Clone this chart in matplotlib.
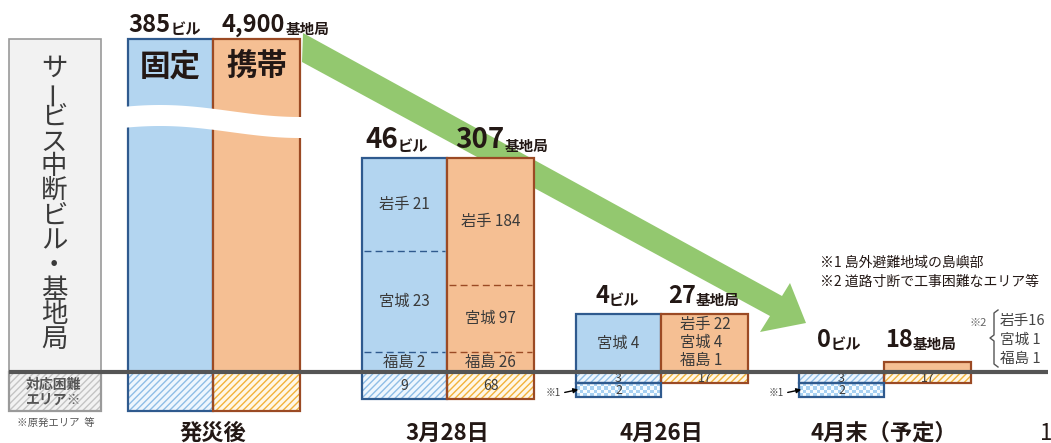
import numpy as np
import matplotlib.pyplot as plt

plt.rcParams['font.family'] = ['Noto Sans CJK JP', 'DejaVu Sans']

# ---- data ----
periods = ['発災後', '3月28日', '4月26日', '4月末（予定）']
fixed_total = [385, 46, 4, 0]        # ビル
mobile_total = [4900, 307, 27, 18]   # 基地局
prefs = ['岩手', '宮城', '福島']
fixed_by_pref = [None, [21, 23, 2], [0, 4, 0], [0, 0, 0]]
mobile_by_pref = [None, [184, 97, 26], [22, 4, 1], [16, 1, 1]]
fixed_hard = [None, 9, 3, 3]         # 対応困難エリア
fixed_island = [None, None, 2, 2]    # ※1 島嶼部
mobile_hard = [None, 68, 17, 17]
notes = ['※1 島外避難地域の島嶼部', '※2 道路寸断で工事困難なエリア等']

# ---- layout (pixels, y downwards) ----
BASE = 372
centers = [213, 447, 661, 884]
W_FIX, W_MOB = 85, 87
upper_fix = [333, 214, 58, 0]
upper_mob = [333, 214, 58, 10]
lower_h1 = [39, 27, 11, 11]
lower_h2 = [0, 0, 14, 14]
num_y = [32, 148, 303, 347]
num_fs = [17, 20, 17, 17]
num_x_fix = [128, 365, 595, 817]
num_x_mob = [222, 455, 668, 885]

BLUE, BLUE_E = '#b3d5f0', '#2f5a8e'
ORANGE, ORANGE_E = '#f5bf93', '#9b4a24'
TXT = '#231815'
SEG = '#3a3a3a'

fig = plt.figure(figsize=(10.51, 4.43), dpi=100)
ax = fig.add_axes([0, 0, 1, 1])


def seg_heights(vals, total_h, min_h=20):
    vals = np.array(vals, float)
    h = vals / vals.sum() * total_h
    small = h < min_h
    h[small] = min_h
    h[~small] = vals[~small] / vals[~small].sum() * (total_h - min_h * small.sum())
    return h


def hatched(x, y, w, h, face, hcol, edge):
    ax.bar(x, h, bottom=y, width=w, align='edge', color=face, edgecolor=hcol,
           hatch='/////', lw=0, zorder=2)
    ax.bar(x, h, bottom=y, width=w, align='edge', color='none', edgecolor=edge,
           lw=1.6, zorder=3)


def checker(x, y, w, h, cell=3.6):
    nx, ny = int(round(w / cell)), int(round(h / cell))
    ii, jj = np.indices((ny, nx))
    light = np.array([0.66, 0.82, 0.95])
    white = np.array([0.97, 0.99, 1.0])
    img = np.where(((ii + jj) % 2)[..., None] == 1, light, white)
    ax.imshow(img, extent=(x, x + w, y + h, y), interpolation='nearest',
              aspect='auto', zorder=2)
    ax.bar(x, h, bottom=y, width=w, align='edge', color='none', edgecolor=BLUE_E,
           lw=1.6, zorder=3)


# green trend arrow
arrow = plt.Polygon([(303, 33), (782, 296), (790, 283), (806, 323), (760, 332),
                     (770, 316), (302, 62)], closed=True, color='#93c86f', lw=0, zorder=1)
ax.add_patch(arrow)

# left caption box
ax.bar(9, BASE - 39, bottom=39, width=92, align='edge', color='#f2f2f2',
       edgecolor='#9a9a9a', lw=1.2, zorder=2)
hatched(9, BASE, 92, 39, '#f2f2f2', '#c4c4c4', '#9a9a9a')
title = 'サービス中断ビル・基地局'
for k, ch in enumerate(title):
    ax.text(54, 68 + k * 24.7, ch, fontsize=19, color=SEG, ha='center', va='center',
            rotation=90 if ch == 'ー' else 0, zorder=5)
ax.text(54, 392, '対応困難\nエリア※', fontsize=10, color='#555555', ha='center',
        va='center', linespacing=1.1, fontweight='bold', zorder=5)
ax.text(56, 423, '※原発エリア  等', fontsize=7.5, color='#555555', ha='center',
        va='center', zorder=5)

for i in range(4):
    xf = centers[i] - W_FIX
    xm = centers[i]
    # upper bars
    if upper_fix[i] > 0:
        ax.bar(xf, upper_fix[i], bottom=BASE - upper_fix[i], width=W_FIX, align='edge',
               color=BLUE, edgecolor=BLUE_E, lw=1.6, zorder=2)
    ax.bar(xm, upper_mob[i], bottom=BASE - upper_mob[i], width=W_MOB, align='edge',
           color=ORANGE, edgecolor=ORANGE_E, lw=1.6, zorder=2)
    # lower (hard to restore) parts
    hatched(xf, BASE, W_FIX, lower_h1[i], '#eef6fd', '#8fbde6', BLUE_E)
    hatched(xm, BASE, W_MOB, lower_h1[i], '#fff7e6', '#f2b23a', ORANGE_E)
    small = lower_h1[i] < 20
    if fixed_hard[i] is not None:
        ax.text(xf + W_FIX / 2, BASE + lower_h1[i] / 2 + 1, str(fixed_hard[i]),
                fontsize=9 if small else 10, color=SEG, ha='center', va='center', zorder=5)
        ax.text(xm + W_MOB / 2, BASE + lower_h1[i] / 2 + 1, str(mobile_hard[i]),
                fontsize=9 if small else 10, color=SEG, ha='center', va='center', zorder=5)
    if fixed_island[i] is not None:
        y2 = BASE + lower_h1[i]
        checker(xf, y2, W_FIX, lower_h2[i])
        ax.text(xf + W_FIX / 2, y2 + lower_h2[i] / 2 + 1, str(fixed_island[i]),
                fontsize=9, color=SEG, ha='center', va='center', zorder=5)
        ax.annotate('', xy=(xf + 5, y2 + 6), xytext=(xf - 14, y2 + 10),
                    arrowprops=dict(arrowstyle='-|>', color='black', lw=1,
                                    mutation_scale=7), zorder=5)
        ax.text(xf - 15, y2 + 10, '※1', fontsize=7, color='#444444', ha='right',
                va='center', zorder=5)

    # headline numbers
    t = ax.text(num_x_fix[i], num_y[i], str(fixed_total[i]), fontsize=num_fs[i],
                fontweight='semibold', color=TXT, ha='left', va='baseline', zorder=5)
    ax.annotate('ビル', xy=(1, 0), xycoords=t, xytext=(0, 0), textcoords='offset points',
                fontsize=11, fontweight='bold', color=TXT, ha='left', va='bottom', zorder=5)
    t = ax.text(num_x_mob[i], num_y[i], f'{mobile_total[i]:,}', fontsize=num_fs[i],
                fontweight='semibold', color=TXT, ha='left', va='baseline', zorder=5)
    ax.annotate('基地局', xy=(1, 0), xycoords=t, xytext=(0, 0), textcoords='offset points',
                fontsize=10.5, fontweight='bold', color=TXT, ha='left', va='bottom', zorder=5)

    ax.text(centers[i], 433, periods[i], fontsize=16, fontweight='bold', color=TXT,
            ha='center', va='center', zorder=5)

# group 1: labels and broken-axis gap
ax.text(128 + W_FIX / 2, 66, '固定', fontsize=22, fontweight='bold', color=TXT,
        ha='center', va='center', zorder=5)
ax.text(centers[0] + W_MOB / 2, 66, '携帯', fontsize=22, fontweight='bold', color=TXT,
        ha='center', va='center', zorder=5)
gx = np.linspace(122, 306, 120)
top = 111 - 6 * np.cos(2 * np.pi * (gx - 160) / 280)
gap = plt.Polygon(np.column_stack([np.r_[gx, gx[::-1]], np.r_[top, top[::-1] + 21]]),
                  closed=True, color='white', lw=0, zorder=4)
ax.add_patch(gap)

# group 2: prefecture split
for bx, w, vals, h, col in [(centers[1] - W_FIX, W_FIX, fixed_by_pref[1], upper_fix[1], BLUE_E),
                            (centers[1], W_MOB, mobile_by_pref[1], upper_mob[1], ORANGE_E)]:
    hs = seg_heights(vals, h)
    y = BASE - h
    for k, (p, v) in enumerate(zip(prefs, vals)):
        ax.text(bx + w / 2, y + hs[k] / 2, f'{p} {v}', fontsize=11, color=SEG,
                ha='center', va='center', zorder=5)
        y += hs[k]
        if k < 2:
            ax.plot([bx + 2, bx + w - 2], [y, y], ls=(0, (5, 3)), color=col, lw=1, zorder=3)

# group 3
ax.text(centers[2] - W_FIX / 2, BASE - upper_fix[2] / 2, f'{prefs[1]} {fixed_by_pref[2][1]}',
        fontsize=11, color=SEG, ha='center', va='center', zorder=5)
for k, (p, v) in enumerate(zip(prefs, mobile_by_pref[2])):
    ax.text(centers[2] + 19, 325 + k * 17.5, f'{p} {v}', fontsize=11, color=SEG,
            ha='left', va='center', zorder=5)

# group 4: ※2 breakdown
ax.text(987, 323, '※2', fontsize=8, color='#666666', ha='right', va='center', zorder=5)
ax.plot([998, 994, 994, 990, 994, 994, 998], [310, 313, 335, 338, 341, 364, 367],
        color='#555555', lw=1, zorder=5)
for k, (p, v) in enumerate(zip(prefs, mobile_by_pref[3])):
    lab = f'{p}{v}' if v >= 10 else f'{p} {v}'
    ax.text(1000, 321 + k * 19, lab, fontsize=10.5, color='#444444', ha='left',
            va='center', zorder=5)
for k, n in enumerate(notes):
    ax.text(820, 263 + k * 19, n, fontsize=10, color=TXT, ha='left', va='center', zorder=5)

# baseline
ax.plot([9, 1048], [BASE - 0.5, BASE - 0.5], color='#555555', lw=3, zorder=6,
        solid_capstyle='butt')

ax.text(1040, 433, '1', fontsize=16, color=TXT, ha='left', va='center', zorder=5)

ax.set_xlim(0, 1051)
ax.set_ylim(443, 0)
ax.axis('off')
fig.savefig('out.png', dpi=100, facecolor='white')
